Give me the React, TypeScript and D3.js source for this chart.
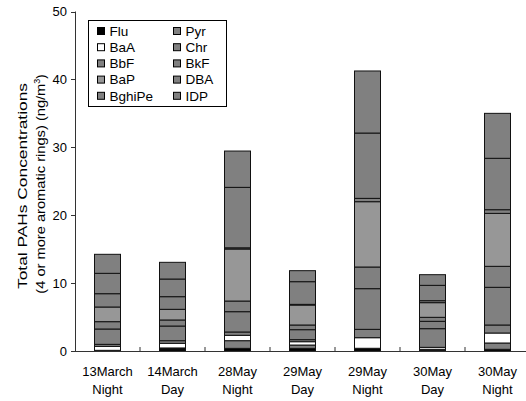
import React from "react";
import * as d3 from "d3";

const categories = [
  ["13March", "Night"],
  ["14March", "Day"],
  ["28May", "Night"],
  ["29May", "Day"],
  ["29May", "Night"],
  ["30May", "Day"],
  ["30May", "Night"],
];
const seriesNames = ["Flu", "Pyr", "BaA", "Chr", "BbF", "BkF", "BaP", "DBA", "BghiPe", "IDP"];
const Flu = [0.05, 0.3, 0.39, 0.39, 0.35, 0.1, 0.25];
const Pyr = [0.05, 0.15, 1.13, 0.49, 0.05, 0.15, 0.93];
const BaA = [0.58, 0.68, 0.79, 0.49, 1.56, 0.29, 1.47];
const Chr = [0.3, 0.39, 0.49, 0.3, 1.23, 2.75, 1.18];
const BbF = [2.26, 2.16, 2.99, 1.47, 5.99, 1.08, 5.55];
const BkF = [1.08, 0.89, 1.57, 0.69, 3.19, 0.59, 3.09];
const BaP = [2.16, 1.57, 7.66, 2.94, 9.62, 2.16, 7.8];
const DBA = [1.96, 1.86, 0.18, 0.1, 0.49, 0.29, 0.54];
const BghiPe = [3.0, 2.6, 8.9, 3.34, 9.62, 2.26, 7.57];
const IDP = [2.8, 2.46, 5.35, 1.62, 9.14, 1.57, 6.62];
const yTicks = [0, 10, 20, 30, 40, 50];

const seriesValues = [Flu, Pyr, BaA, Chr, BbF, BkF, BaP, DBA, BghiPe, IDP];
const colors: Record<string, string> = {
  Flu: "#000000",
  Pyr: "#808080",
  BaA: "#ffffff",
  Chr: "#808080",
  BbF: "#808080",
  BkF: "#808080",
  BaP: "#979797",
  DBA: "#808080",
  BghiPe: "#808080",
  IDP: "#808080",
};

const W = 526;
const H = 401;
const FONT = "'Liberation Sans', Arial, sans-serif";

export default function App() {
  const keys = categories.map((c) => c.join(" "));
  const table = keys.map((k, i) => {
    const row: Record<string, any> = { cat: k };
    seriesNames.forEach((s, j) => (row[s] = seriesValues[j][i]));
    return row;
  });
  const stacked = d3.stack<any>().keys(seriesNames)(table);

  const x = d3.scaleBand().domain(keys).range([75, 530]).paddingInner(0.6).paddingOuter(0.3);
  const y = d3.scaleLinear().domain([0, 50]).range([351, 11.5]);
  const step = x.step();
  const bw = x.bandwidth();
  const axisColor = "#333";

  return (
    <div style={{ position: "fixed", left: 0, top: 0 }}>
      <svg width={W} height={H} style={{ display: "block", background: "#fff" }} fontFamily={FONT}>
        {/* bars */}
        {stacked.map((layer) => (
          <g key={layer.key}>
            {layer.map((d, i) => (
              <rect
                key={i}
                x={x(keys[i])!}
                y={y(d[1])}
                width={bw}
                height={Math.max(0, y(d[0]) - y(d[1]))}
                fill={colors[layer.key]}
                stroke="#111"
                strokeWidth={1}
              />
            ))}
          </g>
        ))}
        {/* y axis */}
        <line x1={75.5} x2={75.5} y1={y(50)} y2={y(0)} stroke={axisColor} strokeWidth={1} />
        {yTicks.map((t) => (
          <g key={t}>
            <line x1={71} x2={75.5} y1={Math.round(y(t)) + 0.5} y2={Math.round(y(t)) + 0.5} stroke={axisColor} />
            <text x={67} y={y(t)} dy="0.35em" textAnchor="end" fontSize={13} fill="#000">
              {t}
            </text>
          </g>
        ))}
        {/* x axis */}
        <line x1={75} x2={W} y1={Math.round(y(0)) + 0.5} y2={Math.round(y(0)) + 0.5} stroke={axisColor} />
        {keys.map((k, i) => {
          const bx = x(k)! + bw + (step - bw) / 2;
          return (
            <line key={"t" + i} x1={bx} x2={bx} y1={y(0) - 4} y2={y(0)} stroke={axisColor} />
          );
        })}
        {categories.map((c, i) => {
          const cx = x(keys[i])! + bw / 2;
          return (
            <text key={"l" + i} x={cx} textAnchor="middle" fontSize={13} fill="#000">
              <tspan x={cx} y={376}>{c[0]}</tspan>
              <tspan x={cx} y={394}>{c[1]}</tspan>
            </text>
          );
        })}
        {/* y title */}
        <text
          transform="translate(27,186) rotate(-90)"
          textAnchor="middle"
          fontSize={13}
          fill="#000"
          textLength={206}
          lengthAdjust="spacingAndGlyphs"
        >
          Total PAHs Concentrations
        </text>
        <text transform="translate(45,184) rotate(-90)" textAnchor="middle" fontSize={13} fill="#000">
          <tspan textLength={210} lengthAdjust="spacingAndGlyphs">(4 or more aromatic rings)  (ng/m</tspan>
          <tspan dy={-5} fontSize={9}>3</tspan>
          <tspan dy={5}>)</tspan>
        </text>
        {/* legend */}
        <rect x={88.5} y={20.5} width={138} height={86} fill="#fff" stroke="#000" strokeWidth={1} />
        {seriesNames.map((s, i) => {
          const col = i % 2;
          const row = Math.floor(i / 2);
          const lx = col === 0 ? 97 : 173;
          const ly = 31 + row * 16.2;
          return (
            <g key={s}>
              <rect x={lx + 0.5} y={ly - 3.5} width={7} height={7} fill={colors[s]} stroke="#000" strokeWidth={1} />
              <text x={lx + 12.5} y={ly} dy="0.35em" fontSize={13.5} fill="#000">
                {s}
              </text>
            </g>
          );
        })}
      </svg>
    </div>
  );
}
